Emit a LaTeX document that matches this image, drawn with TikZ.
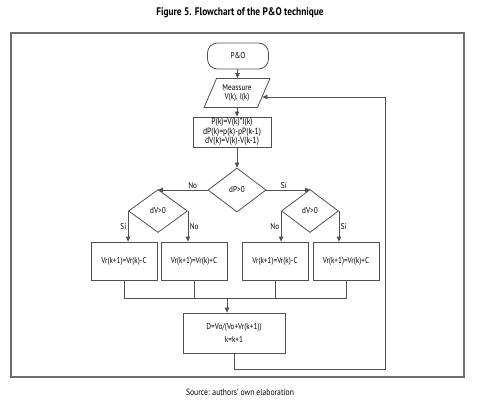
\documentclass[tikz,border=0pt]{standalone}
\usepackage{fontspec}
\setmainfont{PT Sans}[FakeStretch=0.85]
\usetikzlibrary{arrows.meta,positioning,shapes.geometric,calc}
\definecolor{linegray}{RGB}{80,80,80}
\definecolor{framegray}{RGB}{110,110,110}

\begin{document}
\begin{tikzpicture}[x=1pt,y=-1pt,font=\fontsize{8.5}{9.5}\selectfont,
   blk/.style={draw=linegray,line width=0.8pt,minimum width=66pt,minimum height=38pt,
               align=center,inner sep=1pt},
   dec/.style={diamond,draw=linegray,line width=0.8pt,minimum width=58pt,minimum height=44pt,
               inner sep=0pt},
   arr/.style={draw=linegray,line width=0.8pt,-{Triangle[length=5pt,width=4.5pt]}},
   lnk/.style={draw=linegray,line width=0.8pt},
   lbl/.style={inner sep=1.5pt}]
  \useasboundingbox (0,0) rectangle (480,402);
  \node[font=\bfseries\fontsize{11}{13}\selectfont] (title) at (240,13)
       {Figure 5. Flowchart of the P\&O technique};
  \draw[framegray,line width=1.4pt] (11,33) rectangle (464,377);
  % main column
  \node[blk,rounded corners=10pt,minimum width=61pt,minimum height=26pt] (start) at (238,56) {P\&O};
  \node[trapezium,trapezium left angle=64,trapezium right angle=116,trapezium stretches=true,
        draw=linegray,line width=0.8pt,minimum width=66pt,minimum height=29pt,
        align=center,inner sep=1pt] (in) at (237,93) {Meassure\\V(k), I(k)};
  \node[blk,minimum width=78pt,minimum height=30pt,font=\fontsize{9}{9.5}\selectfont] (calc) at (232,132)
       {P(k)=V(k)*I(k)\\dP(k)=p(k)-pP(k-1)\\dV(k)=V(k)-V(k-1)};
  \node[dec] (dp) at (237,190) {dP>0};
  % branches
  \node[dec,minimum width=59pt,minimum height=43pt] (ld) at (158,211) {dV>0};
  \node[dec,minimum width=57pt,minimum height=43pt] (rd) at (310,211) {dV>0};
  \node[blk] (b1) at (124,261) {Vr(k+1)=Vr(k)-C};
  \node[blk] (b2) at (194,261) {Vr(k+1)=Vr(k)+C};
  \node[blk] (b3) at (275,261) {Vr(k+1)=Vr(k)-C};
  \node[blk] (b4) at (346,261) {Vr(k+1)=Vr(k)+C};
  \node[blk,minimum width=102pt,minimum height=40pt] (upd) at (234,333)
       {D=Vo/(Vo+Vr(k+1))\\[3pt]k=k+1};
  \coordinate (mj) at (227,298);
  \coordinate (back) at (385,369);

  \draw[arr] (start) -- (in);
  \draw[arr] (in.south) -- (in.south |- calc.north);
  \draw[arr] (calc.south -| dp.north) -- (dp.north);
  \draw[arr] (dp.west) -- (dp.west -| ld.north) node[lbl,pos=0.3,above]{No};
  \draw[arr] (dp.east) -- (dp.east -| rd.north) node[lbl,pos=0.4,above]{Sí};
  \draw[arr] (ld.west) -- (ld.west |- b1.north) node[lbl,midway,left]{Sí};
  \draw[arr] (ld.east) -- (ld.east |- b2.north) node[lbl,midway,right]{No};
  \draw[arr] (rd.west) -- (rd.west |- b3.north) node[lbl,midway,left]{No};
  \draw[arr] (rd.east) -- (rd.east |- b4.north) node[lbl,midway,right]{Sí};
  % merge and loop back
  \draw[lnk] (b1.south) -- (b1.south |- mj) -- (b4.south |- mj) -- (b4.south);
  \draw[lnk] (b2.south) -- (b2.south |- mj);
  \draw[lnk] (b3.south) -- (b3.south |- mj);
  \draw[arr] (mj) -- (mj |- upd.north);
  \draw[arr] (upd.south) |- (back) |- (in.-9);

  \node[font=\fontsize{9}{11}\selectfont] (src) at (240,392) {Source: authors' own elaboration};
\end{tikzpicture}
\end{document}
